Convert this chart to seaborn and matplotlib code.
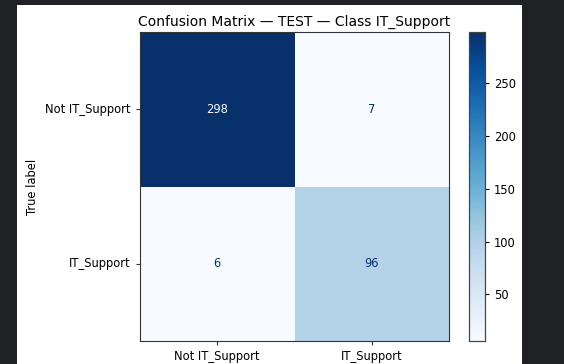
import numpy as np
import pandas as pd
import matplotlib
matplotlib.use("Agg")
import matplotlib.pyplot as plt
import seaborn as sns
from matplotlib.patches import Rectangle

class_labels = ["Not IT_Support", "IT_Support"]
row_not_it = [298, 7]
row_it = [6, 96]
cbar_ticks = [50, 100, 150, 200, 250]
title = "Confusion Matrix \u2014 TEST \u2014 Class IT_Support"

cm = pd.DataFrame([row_not_it, row_it], index=class_labels, columns=class_labels)

W, H = 564, 364
FS = 8.3
fig = plt.figure(figsize=(W / 100, H / 100), dpi=100, facecolor="#202124")
# white figure panel of the screenshot
panel = Rectangle((17 / W, 0), (522 - 17) / W, 1 - 5 / H,
                  transform=fig.transFigure, facecolor="white",
                  edgecolor="none", zorder=-10)
fig.add_artist(panel)

ax = fig.add_axes([140 / W, 1 - 341 / H, (449 - 140) / W, (341 - 32) / H])
cax = fig.add_axes([469 / W, 1 - 341 / H, 16 / W, (341 - 32) / H])

sns.heatmap(cm, annot=True, fmt="d", cmap="Blues", ax=ax, cbar_ax=cax,
            vmin=cm.values.min(), vmax=cm.values.max(),
            annot_kws={"fontsize": FS}, linewidths=0)

cmap = plt.get_cmap("Blues")
thresh = (cm.values.max() + cm.values.min()) / 2
for t in ax.texts:
    v = int(t.get_text())
    t.set_color(cmap(0.0) if v > thresh else cmap(1.0))

for s in ax.spines.values():
    s.set_visible(True)
    s.set_color("#333333")
    s.set_linewidth(0.8)

ax.set_title(title, fontsize=10, pad=4.5)
ax.set_ylabel("True label", fontsize=FS, labelpad=5)
ax.set_xlabel("")
ax.tick_params(axis="both", labelsize=FS, length=3, width=0.8, color="#333333")
ax.set_yticklabels(class_labels, rotation=0)
ax.set_xticklabels(class_labels, rotation=0)

cax.set_yticks(cbar_ticks)
cax.tick_params(labelsize=FS, length=3, width=0.8)
for s in cax.spines.values():
    s.set_visible(True)
    s.set_color("#444444")
    s.set_linewidth(0.8)

fig.savefig("out.png", dpi=100, facecolor=fig.get_facecolor())
